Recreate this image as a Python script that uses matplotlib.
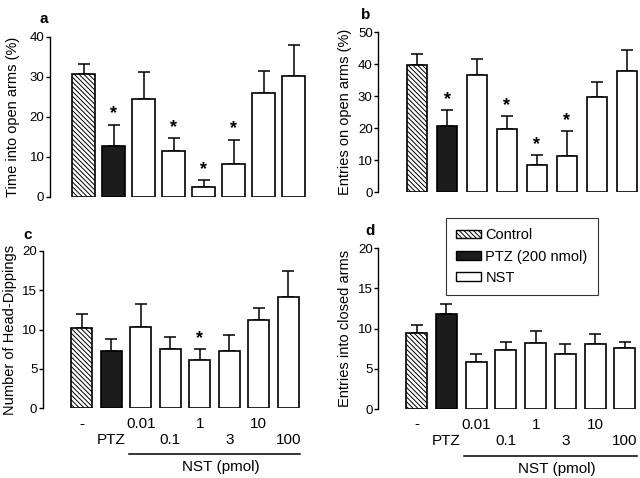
import numpy as np
import matplotlib.pyplot as plt
from matplotlib.patches import Patch
from matplotlib.transforms import blended_transform_factory

plt.rcParams['font.family'] = ['Liberation Sans', 'DejaVu Sans']
plt.rcParams['hatch.linewidth'] = 0.7

groups = ['-', 'PTZ', '0.01', '0.1', '1', '3', '10', '100']

# panel a: time into open arms (%)
time_open = [30.8, 12.6, 24.5, 11.5, 2.5, 8.3, 25.9, 30.3]
time_open_err = [2.4, 5.4, 6.7, 3.1, 1.7, 6.0, 5.5, 7.7]
# panel b: entries on open arms (%)
entries_open = [39.7, 20.8, 36.5, 19.7, 8.5, 11.3, 29.8, 37.7]
entries_open_err = [3.3, 4.8, 5.2, 4.0, 3.0, 7.7, 4.7, 6.8]
# panel c: head dippings
head_dip = [10.2, 7.3, 10.3, 7.5, 6.1, 7.3, 11.2, 14.1]
head_dip_err = [1.8, 1.5, 3.0, 1.6, 1.4, 2.0, 1.5, 3.4]
# panel d: entries into closed arms
entries_closed = [9.5, 11.8, 5.8, 7.4, 8.2, 6.9, 8.1, 7.6]
entries_closed_err = [0.9, 1.3, 1.1, 0.9, 1.5, 1.2, 1.2, 0.8]

stars_a = [1, 3, 4, 5]
stars_b = [1, 3, 4, 5]
stars_c = [4]
stars_d = []

HATCH = '\\\\\\\\\\\\\\'


def panel(rect, vals, errs, stars, ymax, ystep, ylabel, letter, xlim, width,
          xlabels=False, letter_pos=(-0.1, 1.05), labelpad=4):
    ax = fig.add_axes(rect)
    x = np.arange(len(vals))
    faces = ['white', '#1c1c1c'] + ['white'] * 6
    hatches = [HATCH, None] + [None] * 6
    for i in range(len(vals)):
        ax.bar(x[i], vals[i], width=width, color=faces[i], edgecolor='black',
               linewidth=1.2, hatch=hatches[i], zorder=2)
        ax.errorbar(x[i], vals[i], yerr=[[0], [errs[i]]], fmt='none',
                    ecolor='black', elinewidth=1.1, capsize=4, capthick=1.1, zorder=1)
    for i in stars:
        ax.text(x[i], vals[i] + errs[i] + ymax * 0.015, '*', ha='center',
                va='bottom', fontsize=13, fontweight='bold')
    ax.set_xlim(*xlim)
    ax.set_ylim(0, ymax)
    ax.set_yticks(np.arange(0, ymax + 1, ystep))
    ax.tick_params(axis='y', labelsize=9.5, length=3, width=1, pad=1)
    for s in ['top', 'right', 'bottom']:
        ax.spines[s].set_visible(False)
    ax.spines['left'].set_linewidth(1)
    ax.set_ylabel(ylabel, fontsize=10.5, labelpad=labelpad)
    ax.text(letter_pos[0], letter_pos[1], letter, transform=ax.transAxes,
            fontsize=11, fontweight='bold', ha='center', va='bottom')
    if xlabels:
        labs = [g if i % 2 == 0 else '\n' + g for i, g in enumerate(groups)]
        ax.set_xticks(x)
        ax.set_xticklabels(labs, fontsize=11)
        ax.tick_params(axis='x', length=0, pad=6)
        tr = blended_transform_factory(ax.transData, ax.transAxes)
        ax.plot([2 - 0.4, 7 + 0.4], [-0.29, -0.29], color='black', lw=1.1,
                transform=tr, clip_on=False)
        ax.text(4.7, -0.33, 'NST (pmol)', transform=tr, ha='center', va='top',
                fontsize=11)
    else:
        ax.set_xticks([])
    return ax


fig = plt.figure(figsize=(6.4, 4.78), dpi=100)

panel([0.078, 0.588, 0.40, 0.335], time_open, time_open_err, stars_a, 40, 10,
      'Time into open arms (%)', 'a', (-1.13, 7.4), 0.77, letter_pos=(-0.025, 1.07),
      labelpad=7)
panel([0.591, 0.598, 0.407, 0.335], entries_open, entries_open_err, stars_b, 50, 10,
      'Entries on open arms (%)', 'b', (-1.3, 7.4), 0.67, letter_pos=(-0.05, 1.06))
panel([0.067, 0.146, 0.402, 0.329], head_dip, head_dip_err, stars_c, 20, 5,
      'Number of Head-Dippings', 'c', (-1.32, 7.4), 0.71, xlabels=True,
      letter_pos=(-0.06, 1.06))
panel([0.591, 0.144, 0.404, 0.337], entries_closed, entries_closed_err, stars_d, 20, 5,
      'Entries into closed arms', 'd', (-1.29, 7.4), 0.7, xlabels=True,
      letter_pos=(-0.03, 1.06))

handles = [Patch(facecolor='white', edgecolor='black', hatch=HATCH, label='Control'),
           Patch(facecolor='#1c1c1c', edgecolor='black', label='PTZ (200 nmol)'),
           Patch(facecolor='white', edgecolor='black', label='NST')]
leg = fig.legend(handles=handles, loc='upper left',
                 bbox_to_anchor=(446 / 640, 1 - 218 / 478), fontsize=10.5,
                 frameon=True, fancybox=False, edgecolor='black',
                 handlelength=1.7, handleheight=0.55, borderpad=0.7,
                 labelspacing=0.5, handletextpad=0.3, borderaxespad=0)
leg.get_frame().set_linewidth(0.8)

fig.savefig('out.png', dpi=100)
